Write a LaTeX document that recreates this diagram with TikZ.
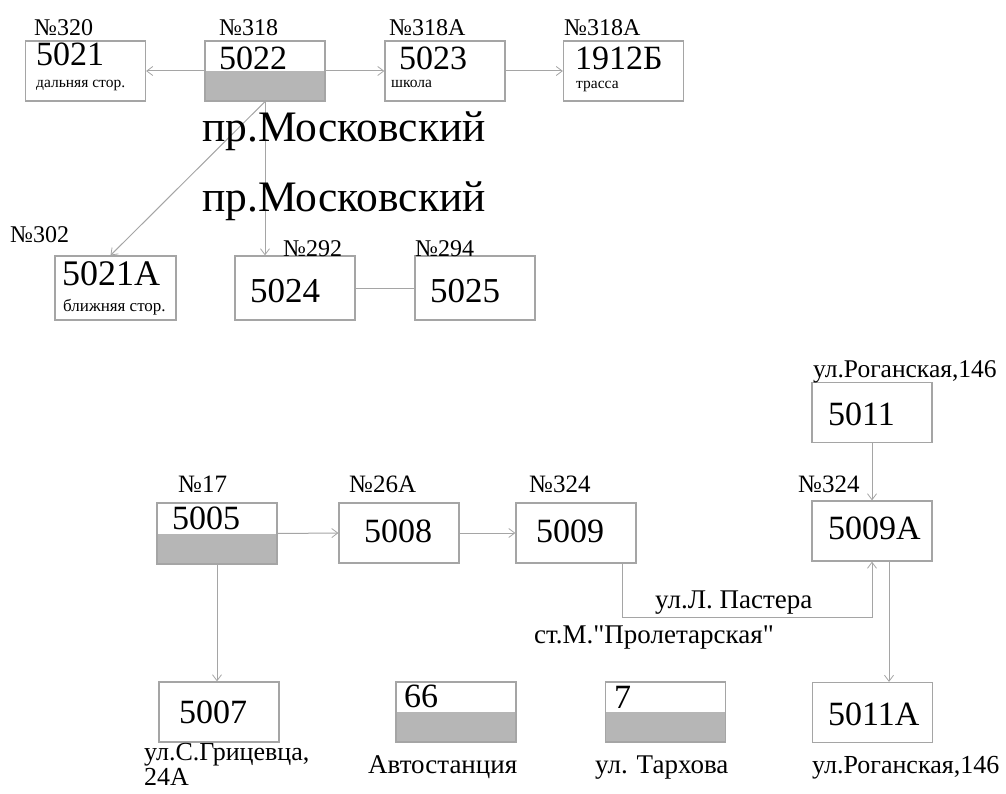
\documentclass[tikz,border=0pt]{standalone}
\usepackage{fontspec}
\setmainfont{Liberation Serif}
\newfontfamily\rawf{Liberation Serif}
\usetikzlibrary{arrows.meta,calc}
\newcommand\fsz[1]{\fontsize{#1}{#1}\selectfont}
\definecolor{ln}{RGB}{165,165,165}
\definecolor{fl}{RGB}{182,182,182}
\tikzset{
  box/.style={draw=ln, line width=1.2pt, fill=white, minimum width=120pt, minimum height=60pt, inner sep=0pt},
  halfbox/.style={box, path picture={\fill[fl] (path picture bounding box.west) rectangle (path picture bounding box.south east);}},
  conn/.style={draw=ln, line width=1pt},
  arr/.style={conn, -{Straight Barb[length=6pt,width=9pt,line width=0.8pt]}},
  txt/.style={inner sep=0pt, anchor=base west},
  big/.style={txt, font=\fsz{34}},
  mid/.style={txt, font=\fsz{24}},
  sml/.style={txt, font=\fsz{15.5}},
  lab/.style={txt, font=\fsz{27}},
}
\begin{document}
\begin{tikzpicture}[x=1pt,y=-1pt]
\useasboundingbox (0,0) rectangle (1006,794);
% top row boxes
\node[box] (b5021) at (85.5,71) {};
\node[halfbox] (b5022) at (265,71) {};
\node[box] (b5023) at (445,71) {};
\node[box] (b1912) at (623.5,71) {};
\node[box, minimum width=121pt, minimum height=64pt] (b5021A) at (115.5,288) {};
\node[box, minimum height=64pt] (b5024) at (295,288) {};
\node[box, minimum height=64pt] (b5025) at (475,288) {};
% bottom boxes
\node[halfbox, minimum height=61pt] (b5005) at (217,533.5) {};
\node[box] (b5008) at (399,533) {};
\node[box] (b5009) at (576,533) {};
\node[box] (b5009A) at (872,531) {};
\node[box] (b5011) at (872,412.5) {};
\node[box] (b5007) at (219,712) {};
\node[halfbox] (b66) at (456,712) {};
\node[halfbox] (b7) at (665.5,712) {};
\node[box] (b5011A) at (872.5,712.5) {};
% connectors top
\draw[arr] (b5022.west) -- (b5021.east);
\draw[arr] (b5022.east) -- (b5023.west);
\draw[arr] (b5023.east) -- (b1912.west);
\draw[arr] (b5022.south) -- ($(b5021A.north)+(-5,0)$);
\draw[arr] (b5022.south) -- (b5022.south |- b5024.north);
\draw[conn] (b5024.east) -- (b5025.west);
% connectors bottom
\draw[arr] (b5005.east) -- (b5008.west);
\draw[arr] (b5008.east) -- (b5009.west);
\draw[arr] (b5005.south) -- (b5005.south |- b5007.north);
\coordinate (c1) at (622,617);
\draw[arr] (c1 |- b5009.south) -- (c1) -| (b5009A.south);
\draw[arr] (b5011.south) -- (b5009A.north);
\coordinate (c2) at (889,0);
\draw[arr] (c2 |- b5009A.south) -- (c2 |- b5011A.north);
% labels top
\node[mid] (n320) at (34,36) {№320};
\node[mid] (n318) at (219,36) {№318};
\node[mid] (n318a) at (389,36) {№318А};
\node[mid] (n318b) at (564,36) {№318А};
\node[big] (t5021) at (36,66) {5021};
\node[big] (t5022) at (219,70) {5022};
\node[big] (t5023) at (399,70) {5023};
\node[big] (t1912) at (575,70) {1912Б};
\node[sml] (s1) at (36,88) {дальняя стор.};
\node[sml] (s2) at (391,88) {школа};
\node[sml] (s3) at (576,89) {трасса};
\node[txt, font=\fsz{43.5}] (m1) at (202,142) {пр.Московский};
\node[txt, font=\fsz{43.5}] (m2) at (202,212) {пр.Московский};
\node[mid] (n302) at (10,243) {№302};
\node[mid] (n292) at (283,257) {№292};
\node[mid] (n294) at (415,257) {№294};
\node[big, font=\fsz{36}] (t5021A) at (62,286) {5021А};
\node[sml, font=\fsz{17}] (s4) at (63,311) {ближняя стор.};
\node[big, font=\fsz{35}] (t5024) at (250,302) {5024};
\node[big, font=\fsz{35}] (t5025) at (430,302) {5025};
% labels bottom
\node[mid, font=\fsz{25}] (n17) at (178,492) {№17};
\node[mid, font=\fsz{25}] (n26) at (349,492) {№26А};
\node[mid, font=\fsz{25}] (n324) at (529,492) {№324};
\node[mid, font=\fsz{25}] (n324b) at (798,492) {№324};
\node[big] (t5005) at (172,529) {5005};
\node[big] (t5008) at (364,542) {5008};
\node[big] (t5009) at (536,542) {5009};
\node[big] (t5009A) at (828,539) {5009А};
\node[big] (t5011) at (828,425) {5011};
\node[lab, font=\fsz{25.5}] (r1) at (813,377) {ул.Роганская,146};
\node[lab] (p1) at (655,608) {ул.Л. Пастера};
\node[lab] (p2) at (534,643) {ст.М.{\rawf "}Пролетарская{\rawf "}};
\node[big] (t5007) at (179,723) {5007};
\node[big] (t66) at (404,707) {66};
\node[big] (t7) at (614,708) {7};
\node[big] (t5011A) at (828,725) {5011А};
\node[inner sep=0pt, anchor=north west, align=left, font=\fontsize{26}{25}\selectfont] (g1) at (144,743) {ул.С.Грицевца,\\24А};
\node[lab] (g3) at (368,773) {Автостанция};
\node[lab] (g4) at (595,773) {ул. Тархова};
\node[lab, font=\fsz{26}] (g5) at (812,773) {ул.Роганская,146};
\end{tikzpicture}
\end{document}
